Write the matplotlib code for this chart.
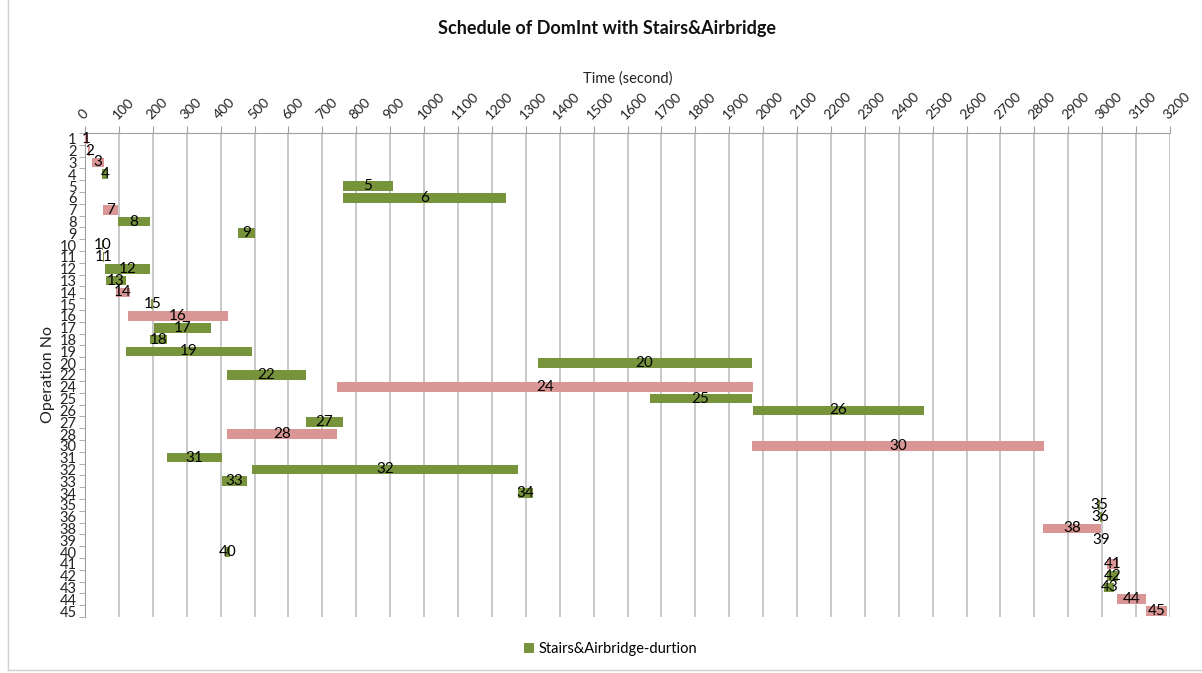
import matplotlib
matplotlib.use("Agg")
import matplotlib.pyplot as plt
from matplotlib.patches import Patch
from matplotlib.lines import Line2D
from matplotlib.ticker import FixedLocator

plt.rcParams['font.family'] = ['Lato', 'DejaVu Sans']

ops = ['1', '2', '3', '4', '5', '6', '7', '8', '9', '10', '11', '12', '13', '14', '15',
       '16', '17', '18', '19', '20', '22', '24', '25', '26', '27', '28', '30', '31', '32',
       '33', '34', '35', '36', '38', '39', '40', '41', '42', '43', '44', '45']
starts = [0, 10, 20, 50, 760, 760, 53, 97, 451, 50, 52, 59, 62, 91, 196,
          127, 203, 192, 121, 1335, 418, 743, 1665, 1969, 651, 418, 1966, 242, 493,
          404, 1276, 2988, 2993, 2824, 2997, 413, 3014, 3015, 3006, 3045, 3130]
durations = [9, 6, 36, 18, 148, 481, 44, 95, 50, 4, 4, 133, 59, 42, 5,
             295, 168, 50, 372, 631, 233, 1226, 301, 504, 109, 325, 863, 162, 783,
             74, 44, 6, 5, 173, 0, 14, 33, 32, 30, 85, 62]
kinds = ['r', 'r', 'r', 'g', 'g', 'g', 'r', 'g', 'g', 'g', 'g', 'g', 'g', 'r', 'g',
         'r', 'g', 'g', 'g', 'g', 'g', 'r', 'g', 'g', 'g', 'r', 'r', 'g', 'g',
         'g', 'g', 'g', 'g', 'r', 'g', 'g', 'r', 'g', 'g', 'r', 'r']
x_ticks = list(range(0, 3201, 100))

GREEN = '#77933C'
RED = '#D99694'
colors = [GREEN if k == 'g' else RED for k in kinds]

fig = plt.figure(figsize=(12.02, 6.73), dpi=100)
ax = fig.add_axes([0.0707, 0.0832, 0.9027, 0.7192])

ypos = list(range(len(ops)))
ax.barh(ypos, durations, left=starts, height=0.82, color=colors, zorder=3)

for y, s, d, lab in zip(ypos, starts, durations, ops):
    ax.text(s + d / 2.0, y, lab, ha='center', va='center', fontsize=11,
            color='black', zorder=4)

ax.set_xlim(0, 3200)
ax.set_ylim(len(ops) - 0.5, -0.5)
ax.xaxis.tick_top()
ax.xaxis.set_label_position('top')
ax.set_xticks(x_ticks)
ax.set_xticklabels([str(v) for v in x_ticks], rotation=45, ha='left',
                   rotation_mode='anchor', fontsize=10, color='#222222')
ax.tick_params(axis='x', length=5, color='#A0A0A0', pad=3)
ax.set_xlabel('Time (second)', fontsize=10.5, labelpad=6, color='#222222')

ax.set_yticks(ypos)
ax.set_yticklabels(ops, fontsize=10.5, color='#222222')
ax.tick_params(axis='y', which='major', length=0, pad=6)
ax.yaxis.set_minor_locator(FixedLocator([i + 0.5 for i in range(-1, len(ops))]))
ax.tick_params(axis='y', which='minor', length=4, color='#A0A0A0')
ax.set_ylabel('Operation No', fontsize=11.5, labelpad=3, color='#222222')

ax.grid(axis='x', color='#BFBFBF', linewidth=1.2, zorder=0)
for side in ['right', 'bottom']:
    ax.spines[side].set_visible(False)
ax.spines['top'].set_color('#A0A0A0')
ax.spines['left'].set_color('#A0A0A0')

fig.text(0.505, 0.957, 'Schedule of DomInt with Stairs&Airbridge', ha='center',
         va='center', fontsize=13, fontweight='bold', color='#111111')

fig.legend(handles=[Patch(facecolor=GREEN, label='Stairs&Airbridge-durtion')],
           loc='center', bbox_to_anchor=(0.508, 0.035), frameon=False,
           fontsize=10.5, handlelength=0.7, handleheight=0.7, handletextpad=0.3)

# chart-area border fragments (left and bottom edges)
fig.add_artist(Line2D([0.0067, 0.0067], [0.004, 1.0], transform=fig.transFigure,
                      color='#D0D0D0', linewidth=1))
fig.add_artist(Line2D([0.0067, 1.0], [0.004, 0.004], transform=fig.transFigure,
                      color='#D0D0D0', linewidth=1))

fig.savefig('out.png', dpi=100)
